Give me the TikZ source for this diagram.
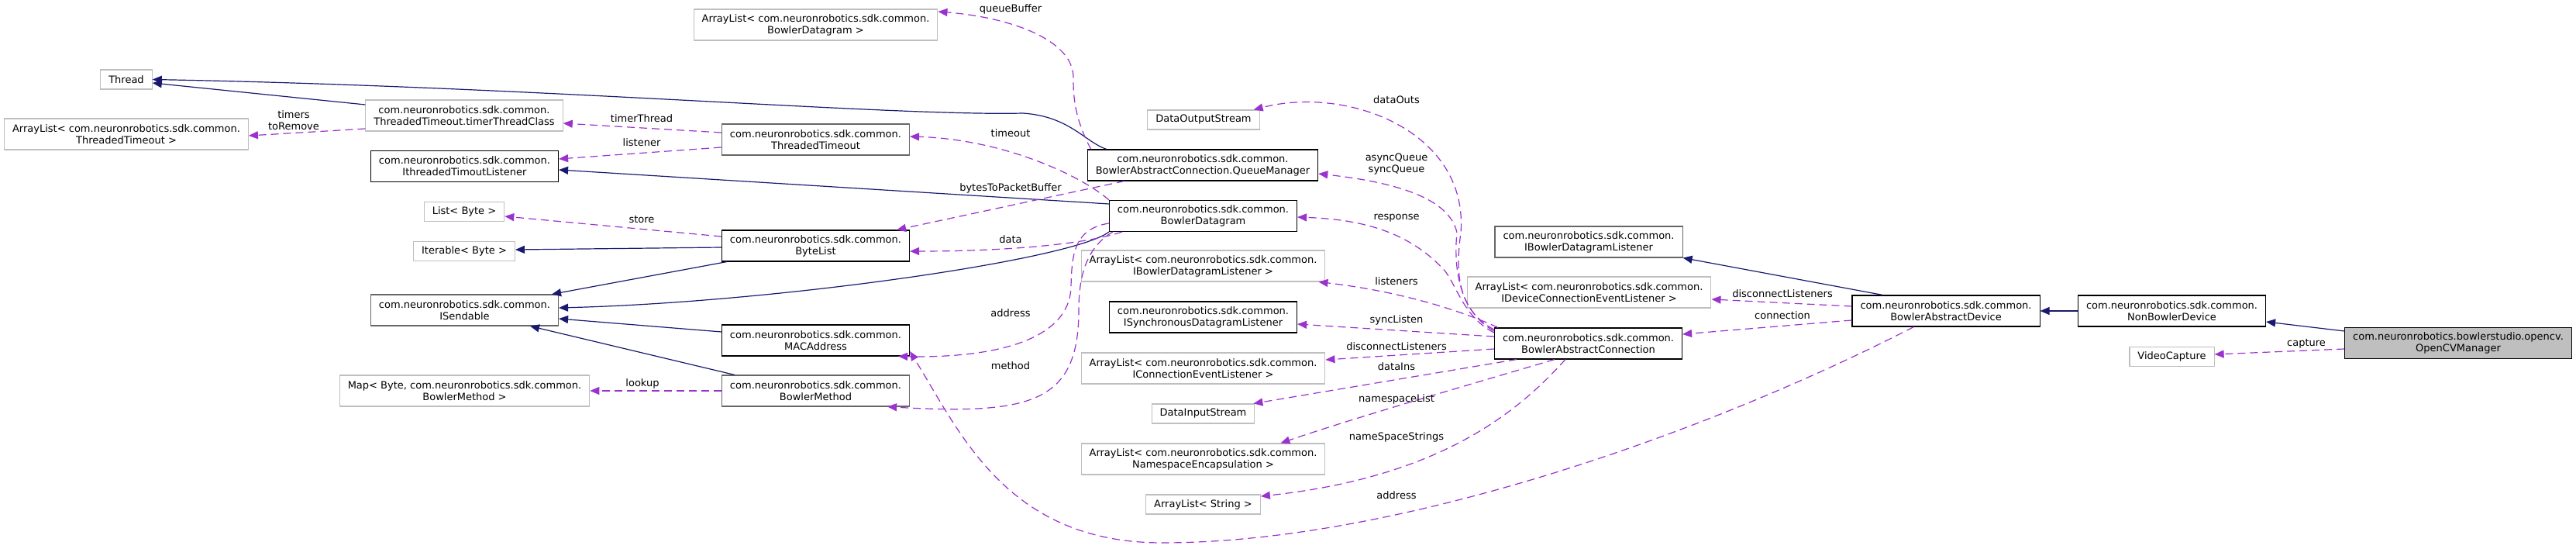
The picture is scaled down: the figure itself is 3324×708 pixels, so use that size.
\documentclass[tikz,border=0pt]{standalone}
\usepackage{fontspec}
\setmainfont{DejaVu Sans}
\usepackage{xcolor}
\usetikzlibrary{arrows.meta}
\definecolor{inhblue}{HTML}{191970}
\definecolor{usepurple}{HTML}{9A32CD}
\definecolor{extgray}{HTML}{BFBFBF}
\definecolor{docgray}{HTML}{666666}
\newcommand{\dxfont}{\fontsize{13}{15}\selectfont}
\tikzset{
  >={Triangle[length=12pt,width=10pt]},
  dxbox/.style={draw, fill=white, line width=1.1pt, align=center, font=\dxfont, inner xsep=10.5pt, inner ysep=2pt, minimum height=25pt},
  cls/.style={dxbox, draw=black},
  clsd/.style={dxbox, draw=docgray},
  ext/.style={dxbox, draw=extgray},
  cur/.style={dxbox, draw=black, fill=extgray},
  twoline/.style={minimum height=40pt},
  inhedge/.style={->, draw=inhblue, line width=1.2pt},
  useedge/.style={->, draw=usepurple, line width=1.2pt, dash pattern=on 10pt off 6pt},
  lbl/.style={font=\dxfont, align=center, inner sep=0pt},
}

\begin{document}
\begin{tikzpicture}[x=1pt, y=-1pt]
  \useasboundingbox (0,0) rectangle (3324,708);
  % classes
  \node[ext] (thread) at (163,102.5) {Thread};
  \node[ext,twoline] (tclass) at (599,149) {com.neuronrobotics.sdk.common.\\ThreadedTimeout.timerThreadClass};
  \node[ext,twoline] (altimeout) at (163,173) {ArrayList< com.neuronrobotics.sdk.common.\\ThreadedTimeout >};
  \node[cls,twoline] (itl) at (599.5,214.5) {com.neuronrobotics.sdk.common.\\IthreadedTimoutListener};
  \node[ext] (listbyte) at (599,273) {List< Byte >};
  \node[ext] (iterbyte) at (599,324) {Iterable< Byte >};
  \node[clsd,twoline] (sendable) at (599.5,400) {com.neuronrobotics.sdk.common.\\ISendable};
  \node[ext,twoline] (mapmeth) at (599.5,504) {Map< Byte, com.neuronrobotics.sdk.common.\\BowlerMethod >};
  \node[ext,twoline] (aldgram) at (1052.5,32) {ArrayList< com.neuronrobotics.sdk.common.\\BowlerDatagram >};
  \node[clsd,twoline] (ttimeout) at (1052.5,180) {com.neuronrobotics.sdk.common.\\ThreadedTimeout};
  \node[cls,twoline] (bytelist) at (1052.5,317) {com.neuronrobotics.sdk.common.\\ByteList};
  \node[cls,twoline] (mac) at (1052.5,439) {com.neuronrobotics.sdk.common.\\MACAddress};
  \node[clsd,twoline] (bmethod) at (1052.5,504) {com.neuronrobotics.sdk.common.\\BowlerMethod};
  \node[ext] (dataout) at (1553,154.5) {DataOutputStream};
  \node[cls,twoline] (qman) at (1552,213) {com.neuronrobotics.sdk.common.\\BowlerAbstractConnection.QueueManager};
  \node[cls,twoline] (dgram) at (1552.5,278.5) {com.neuronrobotics.sdk.common.\\BowlerDatagram};
  \node[ext,twoline] (albdl) at (1552.5,343) {ArrayList< com.neuronrobotics.sdk.common.\\IBowlerDatagramListener >};
  \node[cls,twoline] (isdl) at (1552.5,409) {com.neuronrobotics.sdk.common.\\ISynchronousDatagramListener};
  \node[ext,twoline] (alcel) at (1552.5,475) {ArrayList< com.neuronrobotics.sdk.common.\\IConnectionEventListener >};
  \node[ext] (datain) at (1552.5,533.5) {DataInputStream};
  \node[ext,twoline] (alns) at (1552.5,592) {ArrayList< com.neuronrobotics.sdk.common.\\NamespaceEncapsulation >};
  \node[ext] (alstr) at (1552.5,650.5) {ArrayList< String >};
  \node[clsd,twoline] (ibdl) at (2050,312) {com.neuronrobotics.sdk.common.\\IBowlerDatagramListener};
  \node[ext,twoline] (aldcel) at (2050.5,377) {ArrayList< com.neuronrobotics.sdk.common.\\IDeviceConnectionEventListener >};
  \node[cls,twoline] (bac) at (2049.5,443) {com.neuronrobotics.sdk.common.\\BowlerAbstractConnection};
  \node[cls,twoline] (bad) at (2511,401) {com.neuronrobotics.sdk.common.\\BowlerAbstractDevice};
  \node[cls,twoline] (nbd) at (2802.5,401) {com.neuronrobotics.sdk.common.\\NonBowlerDevice};
  \node[ext] (vidcap) at (2802.5,460) {VideoCapture};
  \node[cur,twoline] (ocv) at (3172,442.5) {com.neuronrobotics.bowlerstudio.opencv.\\OpenCVManager};
  % inheritance
  \draw[inhedge] ([yshift=14pt]tclass.west) -- ([yshift=-4.5pt]thread.east);
  \draw[inhedge] ([xshift=25pt]qman.north west) .. controls (1400,183) and (1380,150) .. (1320,146) .. controls (1150,150) and (700,112) .. (thread.east);
  \draw[inhedge] ([yshift=15.5pt]dgram.west) -- ([yshift=-4.5pt]itl.east);
  \draw[inhedge] ([yshift=-2pt]bytelist.west) -- ([yshift=2pt]iterbyte.east);
  \draw[inhedge] ([xshift=7pt]bytelist.south west) -- ([xshift=-9pt]sendable.north east);
  \draw[inhedge] (dgram.south west) .. controls (1385,335) and (1000,390) .. ([yshift=3pt]sendable.east);
  \draw[inhedge] ([yshift=11pt]mac.west) -- ([yshift=-11pt]sendable.east);
  \draw[inhedge] ([xshift=17pt]bmethod.north west) -- ([xshift=84.5pt]sendable.south);
  \draw[inhedge] ([xshift=40pt]bad.north west) -- (ibdl.south east);
  \draw[inhedge] (nbd.west) -- (bad.east);
  \draw[inhedge] ([yshift=15.5pt]ocv.west) -- ([yshift=-14pt]nbd.east);
  % members
  \draw[useedge] ([yshift=-17pt]tclass.west) -- ([yshift=-2pt]altimeout.east);
  \draw[useedge] ([yshift=9pt]ttimeout.west) -- ([yshift=-10pt]tclass.east);
  \draw[useedge] ([yshift=-10pt]ttimeout.west) -- ([yshift=9.5pt]itl.east);
  \draw[useedge] ([yshift=12pt]bytelist.west) -- ([yshift=-6pt]listbyte.east);
  \draw[useedge] (bmethod.west) -- (mapmeth.east);
  \draw[useedge] ([xshift=5pt]qman.north west) .. controls (1385,150) and (1385,120) .. (1385,100) .. controls (1385,50) and (1300,22) .. ([yshift=17pt]aldgram.east);
  \draw[useedge] (dgram.north west) .. controls (1400,230) and (1300,180) .. ([yshift=4pt]ttimeout.east);
  \draw[useedge] ([xshift=48pt]qman.south west) -- ([xshift=-17pt]bytelist.north east);
  \draw[useedge] ([xshift=17pt]dgram.south west) .. controls (1400,315) and (1300,324) .. ([yshift=-7pt]bytelist.east);
  \draw[useedge] ([yshift=-9.5pt]dgram.west) .. controls (1385,295) and (1383,330) .. (1382,370) .. controls (1380,440) and (1280,462) .. ([xshift=-15pt]mac.south east);
  \draw[useedge] ([xshift=5pt]dgram.south west) .. controls (1400,320) and (1392,360) .. (1392,400) .. controls (1392,520) and (1330,535) .. ([xshift=-29pt]bmethod.south east);
  \draw[useedge] ([xshift=80pt]bad.south west) .. controls (2200,560) and (1800,700) .. (1500,700) .. controls (1300,700) and (1240,560) .. ([yshift=-14pt]mac.east);
  \draw[useedge] ([yshift=18pt]bac.west) .. controls (1880,400) and (1878,350) .. (1885,300) .. controls (1895,170) and (1740,110) .. ([xshift=-8pt]dataout.north east);
  \draw[useedge] ([yshift=16pt]bac.west) .. controls (1880,400) and (1876,340) .. (1880,300) .. controls (1870,255) and (1800,235) .. ([yshift=-11pt]qman.east);
  \draw[useedge] ([yshift=14pt]bac.west) .. controls (1890,410) and (1880,370) .. (1865,350) .. controls (1820,300) and (1760,283) .. ([yshift=-1.5pt]dgram.east);
  \draw[useedge] ([xshift=5pt]bac.north west) .. controls (1880,398) and (1800,375) .. ([xshift=-9pt]albdl.south east);
  \draw[useedge] ([yshift=9pt]bac.west) -- ([yshift=-9pt]isdl.east);
  \draw[useedge] ([yshift=-7pt]bac.west) -- ([yshift=11pt]alcel.east);
  \draw[useedge] ([xshift=29pt]bac.south west) -- ([xshift=-2pt]datain.north east);
  \draw[useedge] ([xshift=78pt]bac.south west) .. controls (1900,495) and (1760,535) .. ([xshift=-58pt]alns.north east);
  \draw[useedge] ([xshift=92pt]bac.south west) .. controls (1960,530) and (1860,615) .. ([yshift=10.5pt]alstr.east);
  \draw[useedge] ([yshift=6pt]bad.west) -- ([yshift=-9pt]aldcel.east);
  \draw[useedge] ([yshift=-12pt]bad.west) -- ([yshift=12pt]bac.east);
  \draw[useedge] ([yshift=-7.5pt]ocv.west) -- ([yshift=3pt]vidcap.east);
  % edge labels
  \foreach \n/\x/\y/\t in {lto/379/155.5/{timers\\toRemove}, ltt/828/153/timerThread, llis/828/184/listener,
      lsto/828/283/store, llook/829/495/lookup, lqb/1304/12/queueBuffer, ltmo/1304/172/timeout,
      lbtp/1304/243/bytesToPacketBuffer, ldata/1304/309/data, laddr/1304/404/address, lmeth/1304/472/method,
      louts/1802/129/dataOuts, lq/1802/211.5/{asyncQueue\\syncQueue}, lresp/1802/281/response,
      llst/1802/363/listeners, lsync/1802/413/syncListen, ldisc/1802/447/disconnectListeners,
      lins/1802/473/dataIns, lnsl/1802/515/namespaceList, lnss/1802/564/nameSpaceStrings,
      ladr/1802/639/address, ldcl/2300/379/disconnectListeners, lconn/2300/407/connection,
      lcap/2976/443/capture}
    \node[lbl] (\n) at (\x,\y) {\t};
\end{tikzpicture}
\end{document}
